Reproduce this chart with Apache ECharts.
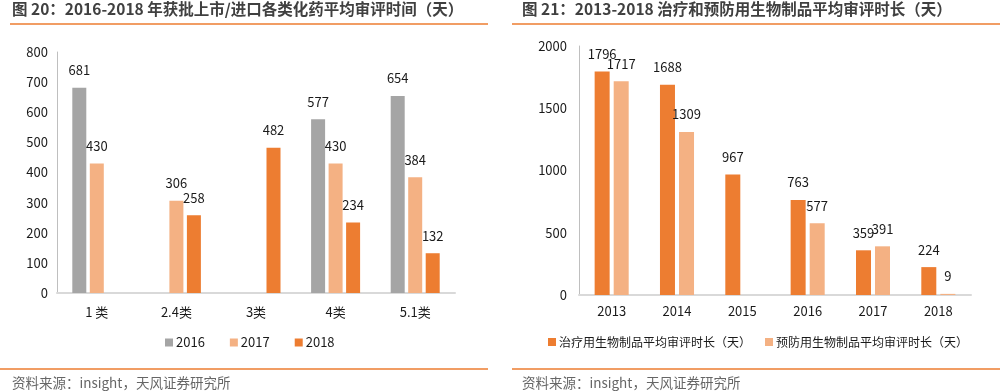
<!DOCTYPE html>
<html><head><meta charset="utf-8">
<script src="https://cdn.jsdelivr.net/npm/echarts@6/dist/echarts.min.js"></script>
<style>html,body{margin:0;padding:0;background:#fff}#c{width:1004px;height:392px}</style>
</head><body><div id="c"></div>
<script>
const leftTitle = '图 20：2016-2018 年获批上市/进口各类化药平均审评时间（天）';
const rightTitle = '图 21：2013-2018 治疗和预防用生物制品平均审评时长（天）';
const sourceText = '资料来源：insight，天风证券研究所';

const leftCategories = ['1 类', '2.4类', '3类', '4类', '5.1类'];
const leftSeriesNames = ['2016', '2017', '2018'];
const left2016 = [681, null, null, 577, 654];
const left2017 = [430, 306, null, 430, 384];
const left2018 = [null, 258, 482, 234, 132];
const leftYTicks = [0, 100, 200, 300, 400, 500, 600, 700, 800];

const rightCategories = ['2013', '2014', '2015', '2016', '2017', '2018'];
const rightSeriesNames = ['治疗用生物制品平均审评时长（天）', '预防用生物制品平均审评时长（天）'];
const rightTherapy = [1796, 1688, 967, 763, 359, 224];
const rightPrevent = [1717, 1309, null, 577, 391, 9];
const rightYTicks = [0, 500, 1000, 1500, 2000];

const GRAY = '#A5A5A5', LIGHT = '#F4B183', ORANGE = '#ED7D31';
const FONT = '"Noto Sans CJK SC", "Noto Sans", sans-serif';

const chart = echarts.init(document.getElementById('c'));
const lbl = {show: true, position: 'top', distance: 11, color: '#1a1a1a', fontSize: 13, fontFamily: FONT};
function bar(name, data, color, xi, width, gap) {
  return {name, type: 'bar', data, xAxisIndex: xi, yAxisIndex: xi, barWidth: width, barGap: gap,
    itemStyle: {color}, label: lbl, emphasis: {disabled: true}};
}
const axisLbl = {color: '#1a1a1a', fontSize: 13, fontFamily: FONT, formatter: v => String(v)};
chart.setOption({
  animation: false,
  textStyle: {fontFamily: FONT},
  grid: [
    {left: 57, top: 52, width: 398, height: 241},
    {left: 579, top: 46, width: 392, height: 249}
  ],
  xAxis: [
    {type: 'category', gridIndex: 0, data: leftCategories, axisTick: {show: false},
      axisLine: {lineStyle: {color: '#D9D9D9', width: 2}}, axisLabel: Object.assign({}, axisLbl, {margin: 13})},
    {type: 'category', gridIndex: 1, data: rightCategories, axisTick: {show: false},
      axisLine: {lineStyle: {color: '#D9D9D9', width: 2}}, axisLabel: Object.assign({}, axisLbl, {margin: 10})}
  ],
  yAxis: [
    {type: 'value', gridIndex: 0, min: leftYTicks[0], max: leftYTicks[leftYTicks.length-1], interval: 100,
      splitLine: {show: false}, axisLine: {show: true, lineStyle: {color: '#BFBFBF'}}, axisTick: {show: false},
      axisLabel: Object.assign({}, axisLbl, {margin: 9})},
    {type: 'value', gridIndex: 1, min: rightYTicks[0], max: rightYTicks[rightYTicks.length-1], interval: 500,
      splitLine: {show: false}, axisLine: {show: true, lineStyle: {color: '#BFBFBF'}}, axisTick: {show: false},
      axisLabel: Object.assign({}, axisLbl, {margin: 12})}
  ],
  legend: [
    {data: leftSeriesNames, left: 160, top: 331, itemWidth: 8, itemHeight: 8, itemGap: 25, icon: 'rect',
      textStyle: {fontSize: 13, color: '#1a1a1a', fontFamily: FONT, padding: [0, 0, 0, -2]}},
    {data: rightSeriesNames, left: 543, top: 331, itemWidth: 8, itemHeight: 8, itemGap: 14, icon: 'rect',
      textStyle: {fontSize: 12, color: '#1a1a1a', fontFamily: FONT, padding: [0, 0, 0, -2]}}
  ],
  series: [
    bar(leftSeriesNames[0], left2016, GRAY, 0, 14, '25%'),
    bar(leftSeriesNames[1], left2017, LIGHT, 0, 14, '25%'),
    bar(leftSeriesNames[2], left2018, ORANGE, 0, 14, '25%'),
    bar(rightSeriesNames[0], rightTherapy, ORANGE, 1, 15, '27%'),
    bar(rightSeriesNames[1], rightPrevent, LIGHT, 1, 15, '27%')
  ],
  graphic: [
    {type: 'text', left: 12, top: 1, style: {text: leftTitle, fill: '#404040', font: 'bold 15.5px ' + FONT}},
    {type: 'text', left: 522, top: 1, style: {text: rightTitle, fill: '#404040', font: 'bold 15.5px ' + FONT}},
    {type: 'line', shape: {x1: 10, y1: 24, x2: 488, y2: 24}, style: {stroke: ORANGE, lineWidth: 1.5}},
    {type: 'line', shape: {x1: 512, y1: 24, x2: 1000, y2: 24}, style: {stroke: ORANGE, lineWidth: 1.5}},
    {type: 'line', shape: {x1: 0, y1: 369, x2: 488, y2: 369}, style: {stroke: ORANGE, lineWidth: 1.5}},
    {type: 'line', shape: {x1: 512, y1: 369, x2: 1000, y2: 369}, style: {stroke: ORANGE, lineWidth: 1.5}},
    {type: 'text', left: 12, top: 376, style: {text: sourceText, fill: '#666666', font: '13.5px ' + FONT}},
    {type: 'text', left: 522, top: 376, style: {text: sourceText, fill: '#666666', font: '13.5px ' + FONT}}
  ]
});
</script></body></html>
